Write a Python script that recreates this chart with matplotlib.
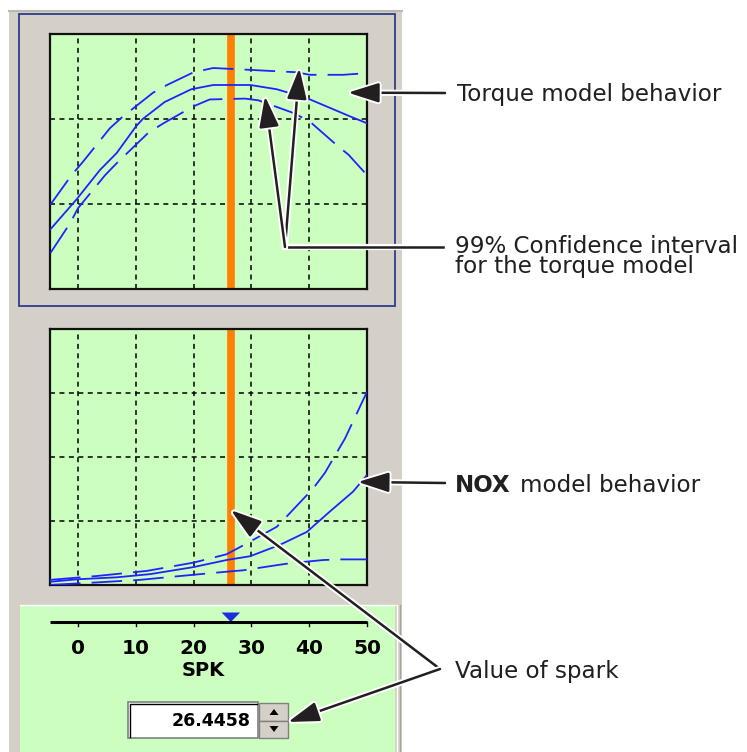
import matplotlib
matplotlib.use("Agg")
import matplotlib.pyplot as plt
import matplotlib.patheffects as pe
from matplotlib.patches import Rectangle, Polygon
from matplotlib.transforms import blended_transform_factory

W, H = 747, 752

GRAY = "#d4d0c8"
GREEN = "#ccffbf"
NAVY = "#2b3d8c"
BLUE = "#2222ff"
ORANGE = "#ff8000"
INK = "#231f20"

plt.rcParams["lines.scale_dashes"] = False
ANN_FONT = ["DejaVu Sans"]
UI_FONT = ["DejaVu Sans"]

# current spark setting (slider / orange cursor)
spark = 26.4458
x_range = (-4.84, 50.0)
slider_ticks = [0, 10, 20, 30, 40, 50]

# torque model, top panel (arbitrary units, 3 grid rows)
tq_x = [-4.8, -0.3, 3.8, 6.7, 10.0, 11.2, 15.0, 19.6, 23.4, 29.8, 34.4, 39.8, 47.1, 50.0]
tq_mid = [0.70, 1.05, 1.40, 1.60, 1.91, 2.00, 2.20, 2.35, 2.40, 2.40, 2.35, 2.24, 2.03, 1.95]
tq_hi_x = [-4.8, -1.1, 0.9, 5.5, 7.6, 13.0, 15.4, 20.0, 23.4, 29.2, 32.0, 37.8, 40.1, 45.9, 50.0]
tq_hi = [0.99, 1.34, 1.50, 1.89, 2.02, 2.31, 2.40, 2.55, 2.60, 2.58, 2.57, 2.55, 2.52, 2.52, 2.54]
tq_lo_x = [-4.8, -1.4, 0.0, 4.7, 6.7, 12.2, 14.8, 20.0, 22.8, 28.9, 31.2, 37.3, 40.1, 44.8, 46.8, 50.0]
tq_lo = [0.42, 0.77, 0.95, 1.34, 1.48, 1.84, 1.95, 2.15, 2.23, 2.24, 2.22, 2.07, 1.97, 1.69, 1.58, 1.34]

# NOX model, bottom panel (arbitrary units, 4 grid rows)
nox_x = [-4.84, 0.0, 6.7, 12.5, 20.0, 25.7, 29.8, 35.0, 39.6, 43.6, 47.6, 50.0]
nox_mid = [0.05, 0.09, 0.12, 0.17, 0.28, 0.39, 0.45, 0.63, 0.83, 1.15, 1.46, 1.72]
nox_hi_x = [-4.84, 3.2, 11.9, 20.0, 25.7, 28.6, 34.4, 36.1, 40.7, 42.7, 46.2, 50.0]
nox_hi = [0.08, 0.14, 0.22, 0.35, 0.48, 0.62, 0.91, 1.07, 1.51, 1.75, 2.29, 3.02]
nox_lo_x = [-4.84, -1.0, 3.2, 10.7, 20.0, 26.0, 28.6, 34.4, 36.7, 42.4, 45.3, 50.0]
nox_lo = [0.0, 0.02, 0.04, 0.08, 0.16, 0.21, 0.23, 0.31, 0.34, 0.39, 0.40, 0.40]


def frac(x0, y0, x1, y1):
    # pixel box (y from top) -> figure fraction rect
    return [x0 / W, 1 - y1 / H, (x1 - x0) / W, (y1 - y0) / H]


fig = plt.figure(figsize=(W / 100, H / 100), dpi=100, facecolor="white")

# ---------------------------------------------------------- panel chrome
bg = fig.add_axes([0, 0, 1, 1], zorder=0)
bg.set_xlim(0, W)
bg.set_ylim(H, 0)
bg.axis("off")
bg.add_patch(Rectangle((9, 10), 393, 742, fc=GRAY, ec="none"))
bg.plot([9, 402], [11, 11], color="#bcb8b0", lw=1.5)
bg.add_patch(Rectangle((19, 14), 376, 292, fc="none", ec=NAVY, lw=1.3))
bg.add_patch(Rectangle((20, 605), 375, 150, fc=GREEN, ec="none"))
bg.plot([20, 395], [604.5, 604.5], color="white", lw=1)
bg.plot([396.5, 396.5], [605, 752], color="white", lw=1)
bg.plot([399.5, 399.5], [605, 752], color="#a8a49c", lw=1)

# ---------------------------------------------------------- data panels
ax_t = fig.add_axes(frac(50, 34, 367, 289), zorder=2)
ax_b = fig.add_axes(frac(50, 329, 367, 585), zorder=2)

for ax, ylim, yt in [(ax_t, (0, 3), [1, 2]), (ax_b, (0, 4), [1, 2, 3])]:
    ax.set_facecolor(GREEN)
    ax.set_xlim(*x_range)
    ax.set_ylim(*ylim)
    ax.set_xticks(slider_ticks[:-1])
    ax.set_yticks(yt)
    ax.tick_params(length=0, labelbottom=False, labelleft=False)
    ax.grid(True, color="black", lw=1.1, linestyle=(0, (3.6, 3.2)))
    ax.set_axisbelow(True)
    for s in ax.spines.values():
        s.set_linewidth(1.6)
        s.set_color("#111111")
    ax.axvline(spark, color=ORANGE, lw=5.5, zorder=2)

dash = (0, (22, 8))
ax_t.plot(tq_x, tq_mid, color=BLUE, lw=1.3, zorder=3)
ax_t.plot(tq_hi_x, tq_hi, color=BLUE, lw=1.3, linestyle=dash, zorder=3)
ax_t.plot(tq_lo_x, tq_lo, color=BLUE, lw=1.3, linestyle=dash, zorder=3)

ax_b.plot(nox_x, nox_mid, color=BLUE, lw=1.3, zorder=3)
ax_b.plot(nox_hi_x, nox_hi, color=BLUE, lw=1.3, linestyle=dash, zorder=3)
ax_b.plot(nox_lo_x, nox_lo, color=BLUE, lw=1.3, linestyle=dash, zorder=3)

# ---------------------------------------------------------- overlay
fg = fig.add_axes([0, 0, 1, 1], zorder=5)
fg.set_xlim(0, W)
fg.set_ylim(H, 0)
fg.axis("off")

# slider (x follows the data axes, y in pixels)
tr = blended_transform_factory(ax_b.transData, fg.transData)
fg.plot(list(x_range), [622, 622], transform=tr, color="black", lw=2.2,
        solid_capstyle="butt")
for v in slider_ticks:
    fg.plot([v, v], [622, 625.5], transform=tr, color="black", lw=1)
    fg.text(v, 648, f"{v}", transform=tr, ha="center", va="center",
            fontsize=14.5, fontweight="bold", family=UI_FONT)
fg.add_patch(Polygon([(spark - 1.6, 612.5), (spark + 1.6, 612.5), (spark, 622)],
                     closed=True, transform=tr, fc="#1a2ee0", ec="none"))
fg.text(0.483, 670, "SPK", transform=blended_transform_factory(ax_b.transAxes, fg.transData),
        ha="center", va="center", fontsize=14, fontweight="bold", family=UI_FONT)

# edit box + spinner
fg.add_patch(Rectangle((128, 702), 130, 36, fc="white", ec="#808080", lw=1.2))
fg.plot([129.5, 129.5, 256.5], [736.5, 703.5, 703.5], color="black", lw=1)
fg.text(251, 720.5, f"{spark:.4f}", ha="right", va="center", fontsize=12.5,
        fontweight="bold", family=UI_FONT)
for y0 in (703, 720.5):
    fg.add_patch(Rectangle((259, y0), 29, 17.5, fc=GRAY, ec="#808080", lw=1))
fg.add_patch(Polygon([(269.5, 715), (278.5, 715), (274, 709)], closed=True, fc="black"))
fg.add_patch(Polygon([(269.5, 726), (278.5, 726), (274, 732)], closed=True, fc="black"))

# callouts
halo = [pe.withStroke(linewidth=4.5, foreground="white")]
arrow_kw = dict(arrowstyle="-|>,head_length=0.95,head_width=0.3", mutation_scale=20,
                color=INK, lw=1.8, shrinkA=0, shrinkB=0, path_effects=halo)


def callout(tail, tip, tip_coords):
    fg.annotate("", xy=tip, xycoords=tip_coords, xytext=tail, textcoords=fg.transData,
                arrowprops=arrow_kw, annotation_clip=False)


callout((445, 93), (46.7, 2.31), ax_t.transData)
fg.plot([443, 285], [247, 247], color=INK, lw=1.8, path_effects=halo)
callout((285, 247), (38.3, 2.60), ax_t.transData)
callout((285, 247), (32.35, 2.27), ax_t.transData)
callout((445, 483), (48.4, 1.61), ax_b.transData)
callout((440, 669), (spark, 1.17), ax_b.transData)
callout((440, 669), (288, 722), fg.transData)

txt = dict(fontsize=16.6, family=ANN_FONT, color=INK, va="baseline")
fg.text(457, 101.5, "Torque model behavior", **txt)
fg.text(455, 273.5, "99% Confidence interval\nfor the torque model", linespacing=0.88, **txt)
fg.text(455, 492.5, "NOX", fontweight="bold", **txt)
fg.text(520, 492.5, "model behavior", **txt)
fg.text(455, 678, "Value of spark", **txt)

fig.savefig("out.png", dpi=100, facecolor="white")
